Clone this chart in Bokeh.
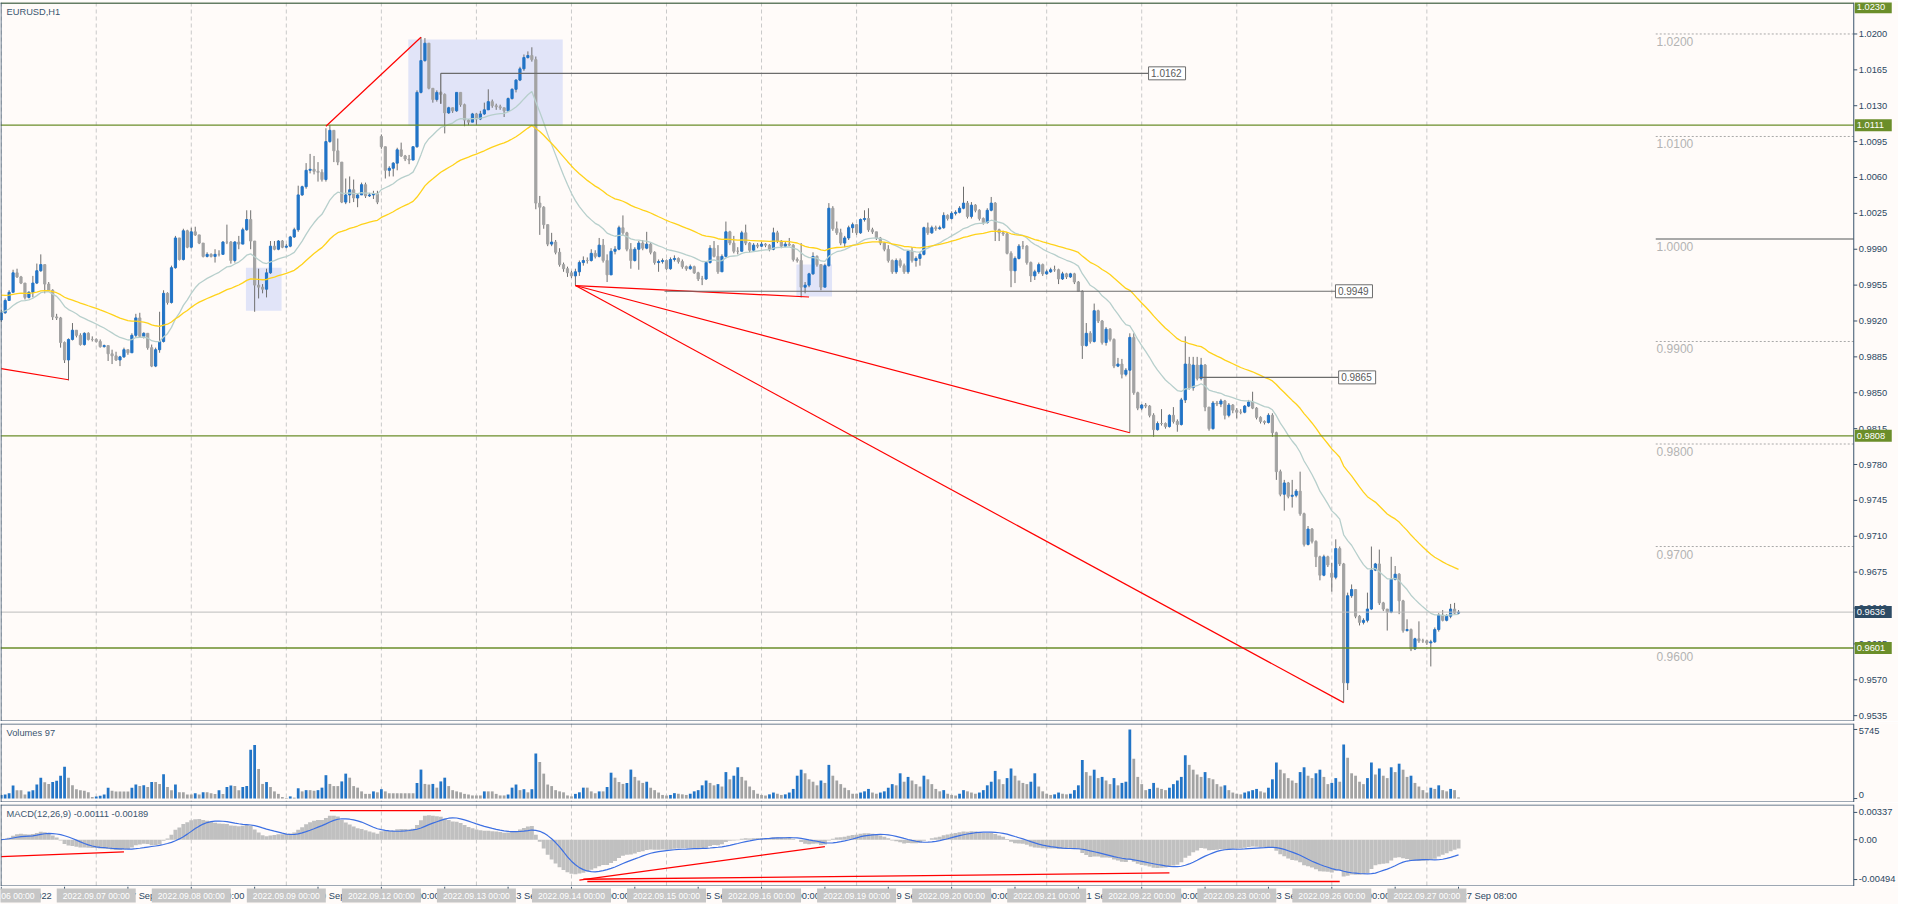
import numpy as np
import pandas as pd
from bokeh.plotting import figure
from bokeh.models import Range1d, Span, ColumnDataSource
from bokeh.layouts import column
from bokeh.embed import file_html
from bokeh.resources import INLINE
from bokeh.core.properties import value

# ---------------- data ----------------
TITLE = "EURUSD,H1"
DAYS = ["2022.09.06", "2022.09.07", "2022.09.08", "2022.09.09", "2022.09.12", "2022.09.13",
        "2022.09.14", "2022.09.15", "2022.09.16", "2022.09.19", "2022.09.20", "2022.09.21",
        "2022.09.22", "2022.09.23", "2022.09.26", "2022.09.27"]
PRICE_BASE = 0.9500   # prices below are in pips above this base
PIP = 0.0001

CLOSE_P = [
    428, 440, 448, 467, 463, 457, 443, 448, 457, 469,
    475, 456, 450, 424, 423, 399, 382, 402, 411, 406,
    397, 408, 402, 402, 400, 395, 396, 388, 386, 382,
    385, 392, 389, 406, 423, 405, 408, 394, 376, 392,
    400, 447, 438, 472, 501, 480, 508, 492, 507, 504,
    496, 483, 485, 483, 485, 485, 497, 497, 479, 497,
    495, 509, 519, 498, 455, 453, 451, 467, 493, 490,
    498, 492, 493, 502, 509, 543, 551, 567, 568, 566,
    565, 558, 595, 606, 586, 575, 536, 543, 548, 540,
    543, 553, 542, 543, 544, 536, 590, 567, 569, 574,
    587, 581, 578, 577, 590, 643, 674, 691, 647, 636,
    643, 641, 623, 628, 625, 643, 631, 616, 614, 622,
    617, 622, 626, 634, 630, 629, 628, 625, 637, 646,
    655, 666, 677, 679, 675, 535, 531, 514, 495, 497,
    487, 475, 471, 467, 464, 468, 477, 479, 479, 486,
    483, 494, 479, 465, 488, 490, 511, 506, 490, 479,
    490, 496, 491, 495, 487, 477, 478, 479, 471, 480,
    481, 478, 473, 471, 473, 467, 461, 461, 477, 491,
    483, 468, 483, 507, 496, 488, 488, 506, 496, 489,
    494, 493, 495, 494, 490, 506, 498, 493, 495, 494,
    480, 479, 453, 455, 466, 483, 475, 453, 474, 530,
    510, 506, 496, 501, 511, 514, 506, 519, 520, 509,
    507, 501, 496, 490, 479, 468, 479, 474, 468, 488,
    479, 481, 485, 511, 506, 511, 510, 511, 523, 520,
    525, 526, 530, 535, 522, 533, 528, 520, 516, 528,
    535, 509, 506, 505, 486, 469, 481, 493, 493, 477,
    464, 468, 475, 466, 468, 470, 470, 461, 466, 463,
    466, 458, 449, 396, 408, 400, 430, 420, 399, 412,
    402, 376, 378, 368, 372, 404, 350, 335, 338, 337,
    328, 314, 320, 320, 317, 328, 322, 319, 343, 378,
    355, 377, 364, 377, 336, 315, 340, 339, 342, 328,
    338, 333, 331, 331, 337, 341, 335, 326, 322, 321,
    328, 311, 273, 251, 262, 249, 250, 254, 232, 202,
    217, 205, 190, 172, 190, 182, 170, 198, 183, 67,
    152, 158, 132, 126, 128, 139, 177, 183, 145, 139,
    136, 168, 173, 147, 118, 119, 100, 110, 108, 108,
    106, 107, 119, 133, 128, 132, 139, 135, 136]

HIGH_P = [
    431, 442, 450, 470, 471, 464, 457, 449, 464, 476,
    485, 475, 458, 451, 427, 424, 400, 403, 418, 411,
    408, 409, 409, 405, 403, 402, 397, 396, 392, 390,
    386, 394, 392, 408, 427, 428, 409, 408, 397, 394,
    429, 450, 448, 474, 503, 498, 510, 509, 511, 512,
    504, 496, 487, 486, 490, 489, 498, 514, 498, 498,
    503, 511, 528, 528, 498, 471, 456, 471, 498, 498,
    499, 499, 495, 503, 511, 552, 552, 574, 583, 581,
    575, 568, 608, 611, 606, 598, 575, 559, 561, 558,
    544, 555, 555, 545, 547, 547, 602, 590, 571, 575,
    589, 594, 582, 582, 590, 645, 697, 696, 690, 647,
    645, 644, 642, 629, 628, 643, 643, 632, 617, 623,
    623, 625, 633, 646, 636, 632, 631, 628, 638, 647,
    656, 668, 680, 683, 687, 678, 542, 532, 514, 506,
    499, 491, 477, 473, 469, 471, 479, 483, 482, 490,
    489, 501, 500, 485, 491, 493, 513, 523, 507, 496,
    492, 498, 499, 507, 496, 488, 480, 481, 480, 482,
    484, 482, 480, 474, 475, 474, 468, 464, 478, 494,
    498, 494, 485, 517, 508, 503, 492, 508, 514, 497,
    496, 496, 497, 496, 495, 511, 508, 499, 497, 501,
    495, 482, 496, 458, 467, 487, 484, 474, 476, 535,
    532, 517, 510, 503, 513, 516, 513, 520, 528, 530,
    511, 507, 502, 497, 494, 480, 481, 481, 476, 489,
    492, 483, 487, 512, 516, 513, 513, 513, 526, 524,
    527, 528, 532, 551, 537, 536, 534, 529, 521, 530,
    541, 536, 510, 508, 506, 488, 483, 495, 498, 494,
    478, 470, 477, 476, 470, 472, 474, 471, 468, 467,
    467, 467, 459, 450, 418, 410, 437, 431, 421, 414,
    413, 403, 384, 383, 374, 408, 408, 351, 339, 340,
    338, 330, 322, 334, 321, 329, 336, 324, 345, 405,
    385, 385, 385, 384, 378, 336, 342, 342, 344, 343,
    340, 339, 335, 334, 338, 343, 351, 336, 327, 323,
    330, 330, 312, 275, 265, 263, 265, 256, 273, 233,
    220, 218, 206, 191, 192, 191, 184, 207, 200, 184,
    155, 163, 158, 133, 130, 155, 200, 184, 197, 146,
    139, 190, 181, 174, 148, 129, 120, 111, 127, 110,
    109, 109, 121, 135, 138, 134, 144, 145, 138]

LOW_P = [
    419, 427, 440, 449, 462, 456, 441, 442, 443, 456,
    468, 447, 449, 421, 421, 394, 379, 362, 401, 404,
    396, 396, 401, 400, 399, 394, 394, 381, 378, 381,
    376, 384, 387, 389, 404, 404, 403, 392, 375, 375,
    389, 399, 436, 437, 471, 479, 479, 491, 491, 503,
    495, 482, 482, 482, 477, 483, 485, 495, 476, 477,
    490, 495, 508, 490, 429, 442, 447, 443, 466, 489,
    489, 491, 491, 492, 501, 507, 542, 549, 564, 563,
    556, 556, 556, 594, 575, 572, 535, 534, 535, 536,
    531, 543, 540, 541, 539, 534, 588, 559, 561, 561,
    567, 580, 576, 573, 577, 589, 642, 673, 646, 633,
    634, 632, 603, 622, 623, 624, 629, 610, 611, 614,
    611, 616, 621, 626, 628, 626, 626, 619, 624, 636,
    643, 654, 664, 676, 673, 529, 504, 510, 493, 493,
    485, 473, 468, 463, 462, 455, 464, 474, 476, 478,
    481, 482, 477, 458, 466, 485, 489, 504, 488, 471,
    478, 470, 489, 490, 485, 475, 468, 476, 470, 470,
    478, 476, 471, 469, 470, 466, 459, 455, 460, 476,
    482, 466, 469, 482, 494, 486, 485, 488, 494, 487,
    488, 491, 492, 492, 488, 489, 496, 491, 492, 493,
    478, 477, 443, 447, 453, 465, 473, 450, 453, 473,
    508, 504, 494, 492, 499, 506, 504, 505, 517, 507,
    505, 499, 494, 488, 477, 466, 466, 472, 466, 466,
    477, 473, 474, 484, 504, 505, 508, 509, 510, 518,
    519, 523, 525, 529, 520, 520, 526, 518, 514, 515,
    527, 498, 498, 503, 485, 453, 457, 480, 490, 475,
    458, 460, 466, 464, 465, 467, 468, 456, 460, 461,
    462, 456, 449, 383, 395, 398, 399, 418, 397, 396,
    400, 374, 375, 364, 366, 311, 348, 333, 333, 335,
    326, 307, 313, 318, 315, 316, 320, 312, 318, 340,
    353, 352, 362, 362, 332, 313, 314, 337, 336, 324,
    326, 330, 325, 329, 330, 336, 334, 324, 320, 319,
    320, 307, 265, 249, 235, 247, 238, 248, 230, 200,
    201, 203, 180, 167, 171, 180, 156, 168, 181, 48,
    60, 150, 130, 123, 124, 126, 138, 176, 143, 137,
    118, 135, 167, 134, 116, 117, 98, 99, 106, 106,
    104, 83, 106, 117, 127, 127, 130, 134, 134]

FIRST_OPEN_P = 421
GAP_OPEN_P = {96: 600, 336: 174}

VOLUME = [
    300, 337, 440, 1088, 699, 699, 337, 596, 699, 1166,
    1735, 1347, 1217, 1373, 1476, 1891, 2642, 1735, 1114, 777,
    699, 648, 518, 130, 181, 233, 337, 907, 648, 596,
    596, 596, 596, 907, 1166, 1036, 1114, 958, 1373, 1373,
    1217, 2020, 958, 699, 1166, 518, 518, 337, 337, 440,
    337, 518, 518, 440, 389, 699, 389, 958, 1088, 1036,
    699, 958, 1036, 4066, 4455, 2460, 1217, 1373, 958, 596,
    389, 130, 50, 181, 78, 855, 596, 699, 699, 648,
    699, 907, 1943, 1217, 1036, 1036, 1425, 2072, 1735, 1036,
    907, 596, 389, 389, 596, 518, 777, 596, 440, 440,
    440, 440, 440, 440, 440, 1295, 2409, 1217, 1166, 1217,
    907, 1425, 1735, 1036, 699, 596, 518, 389, 337, 259,
    259, 259, 596, 596, 596, 389, 259, 259, 337, 907,
    1166, 699, 777, 518, 777, 3756, 3030, 2072, 1166, 1036,
    699, 596, 518, 259, 181, 389, 518, 907, 907, 596,
    440, 596, 596, 958, 2150, 1735, 1373, 1217, 1295, 2409,
    1800, 1500, 1300, 1400, 900, 700, 500, 300, 250, 300,
    450, 400, 350, 300, 400, 600, 700, 1100, 1500, 1300,
    1100, 1200, 1000, 2200, 1600, 1900, 2600, 1800, 1500, 1000,
    700, 400, 300, 250, 350, 500, 400, 300, 350, 500,
    800, 1900, 2400, 2100, 1600, 1400, 1100, 1500, 1300, 2800,
    1900, 1500, 1200, 900, 700, 400, 400, 500, 600, 800,
    500, 400, 500, 600, 900, 1200, 1100, 2100, 1400, 1800,
    1500, 1200, 1000, 1900, 1600, 1200, 800, 600, 700, 400,
    300, 250, 400, 700, 600, 500, 400, 500, 700, 1100,
    1400, 2300, 1600, 1200, 1700, 2500, 1900, 1500, 1300, 1200,
    1400, 2100, 1000, 600, 400, 300, 350, 500, 400, 350,
    400, 700, 1100, 3200, 2200, 1900, 2400, 1700, 1800, 1500,
    1200, 1700, 1100, 1300, 1400, 5745, 3300, 1800, 1200, 700,
    800, 1300, 900, 800, 700, 900, 1200, 1500, 1800, 3600,
    2800, 2400, 2000, 1800, 2200, 1700, 1600, 1200, 1000, 1100,
    700, 500, 400, 350, 500, 600, 700, 800, 600, 500,
    900, 1600, 3000, 2400, 2100, 1700, 1500, 1300, 2200, 2600,
    1900, 1700, 2100, 2400, 1800, 1200, 1300, 1700, 1400, 4500,
    3400, 2100, 1900, 1400, 1200, 1700, 3000, 2000, 2500, 1900,
    1700, 2600, 2200, 2900, 2400, 1800, 1900, 1300, 1000, 700,
    500, 900, 800, 1100, 700, 600, 800, 700, 97]

VOLUME_LABEL = "Volumes 97"
MACD_LABEL = "MACD(12,26,9) -0.00111 -0.00189"
MA_FAST, MA_SLOW = 20, 50
MA_FAST_SEED, MA_SLOW_SEED = 0.9929, 0.9946

PRICE_TICKS = [1.0200, 1.0165, 1.0130, 1.0095, 1.0060, 1.0025, 0.9990, 0.9955, 0.9920, 0.9885,
               0.9850, 0.9815, 0.9780, 0.9745, 0.9710, 0.9675, 0.9640, 0.9605, 0.9570, 0.9535]
VOLUME_TICKS = [5745, 0]
VOLUME_TICK_TEXT = ["5745", "0"]
VOLUME_TICK_SHIFT = [-2, 4]        # px nudges of the labels (up is positive)
MACD_TICKS = [0.00337, 0.0, -0.00494]
MACD_TICK_TEXT = ["0.00337", "0.00", "-0.00494"]
MACD_TICK_SHIFT = [0, 0, 1]

GREEN_LEVELS = [1.0230, 1.0111, 0.9808, 0.9601]
CURRENT_PRICE = 0.9636
ROUND_LEVELS = [1.0200, 1.0100, 0.9900, 0.9800, 0.9700]
ROUND_SOLID = [1.0000]
ROUND_LABEL_ONLY = [0.9600]

# rectangles: left bar, right bar, top price, bottom price
RECT_L = [61.8, 102.8, 200.8]
RECT_R = [70.8, 141.8, 209.8]
RECT_T = [0.9972, 1.01946, 0.9975]
RECT_B = [0.9930, 1.01104, 0.9944]

# red trend lines on price (bar, price) -> (bar, price)
TR_X0 = [0, 82, 145, 145, 145]
TR_Y0 = [0.98736, 1.0110, 0.99546, 0.99546, 0.99546]
TR_X1 = [17, 106, 204, 285, 339]
TR_Y1 = [0.98627, 1.01968, 0.99434, 0.9811, 0.95477]

# red trend lines on MACD
MT_X0 = [0, 83, 146, 147, 148]
MT_Y0 = [-0.00209, 0.00358, -0.00500, -0.00490, -0.00518]
MT_X1 = [31, 111, 208, 295, 338]
MT_Y1 = [-0.00152, 0.00358, -0.00086, -0.00412, -0.00518]

# gray price lines with boxed labels
PL_X0 = [111, 167.5, 302.6]
PL_X1 = [289.6, 336.8, 337.6]
PL_Y = [1.01616, 0.99490, 0.98650]
PL_TXT = ["1.0162", "0.9949", "0.9865"]
PL_VERT_X = [111]
PL_VERT_Y0 = [1.0132]
PL_VERT_Y1 = [1.01616]

# ---------------- derived ----------------
N = len(CLOSE_P)
x = np.arange(N)
close = PRICE_BASE + np.array(CLOSE_P) * PIP
high_raw = PRICE_BASE + np.array(HIGH_P) * PIP
low_raw = PRICE_BASE + np.array(LOW_P) * PIP
open_ = np.empty(N)
open_[0] = PRICE_BASE + FIRST_OPEN_P * PIP
open_[1:] = close[:-1]
for k, v in GAP_OPEN_P.items():
    open_[k] = PRICE_BASE + v * PIP
high = np.maximum(high_raw, np.maximum(open_, close))
low = np.minimum(low_raw, np.minimum(open_, close))

BLUE = "#2274c6"
GRAY = "#a3a3a3"
WICK = "#6f6f6f"
BG = "#fffbf9"
FRAME = "#3a536c"
AXTXT = "#2c4762"
GREEN = "#6b8e2a"
NAVY = "#2d4b65"
FONT = "Liberation Sans"
FS = "9.3px"

bull = close > open_
body_color = [BLUE if b else GRAY for b in bull]
csrc = ColumnDataSource(dict(x=x, h=high, l=low,
                             bt=np.maximum(open_, close), bb=np.minimum(open_, close),
                             col=body_color))

cs = pd.Series(close)
ma_fast = pd.concat([pd.Series([MA_FAST_SEED]), cs]).ewm(span=MA_FAST, adjust=False).mean().values[1:]
ma_slow = pd.concat([pd.Series([MA_SLOW_SEED]), cs]).ewm(span=MA_SLOW, adjust=False).mean().values[1:]
ema12 = cs.ewm(span=12, adjust=False).mean()
ema26 = cs.ewm(span=26, adjust=False).mean()
macd = (ema12 - ema26).values
signal = pd.Series(macd).rolling(9, min_periods=1).mean().values

vol = np.array(VOLUME, dtype=float)
vol_col = [BLUE] + [BLUE if vol[i] > vol[i - 1] else GRAY for i in range(1, N)]

# ---------------- layout helpers ----------------
FW = 1898
XR = Range1d(-0.175, 479.1)
AX_X = 467.8                      # bar position of the price-axis line
PXB = FW / (XR.end - XR.start)    # pixels per bar


def panel(h, ylo, yhi, top=2):
    p = figure(frame_width=FW, frame_height=h, x_range=XR, y_range=Range1d(ylo, yhi),
               output_backend="svg", toolbar_location=None, tools="",
               x_axis_location=None, y_axis_location=None,
               background_fill_color=BG, border_fill_color=BG,
               min_border_left=0, min_border_right=0, min_border_top=top, min_border_bottom=0)
    p.grid.visible = False
    p.outline_line_color = None
    return p


def day_lines(p):
    for k in range(len(DAYS)):
        p.add_layout(Span(location=24 * k, dimension="height", line_color="#c9c9c9",
                          line_dash="4 3", line_width=1, level="underlay"))


def frame_and_axis(p, h, ylo, yhi, ticks, texts, shifts=None):
    pys = h / (yhi - ylo)
    dx, dy = 0.5 / PXB, 0.5 / pys
    p.segment(x0=[XR.start + dx, XR.start, XR.start, AX_X],
              y0=[ylo, yhi - dy, ylo + dy, ylo],
              x1=[XR.start + dx, AX_X, AX_X, AX_X],
              y1=[yhi, yhi - dy, ylo + dy, yhi],
              line_color=FRAME, line_width=1)
    n = len(ticks)
    p.segment(x0=[AX_X] * n, y0=ticks, x1=[AX_X + 3.5 / PXB] * n, y1=ticks,
              line_color=FRAME, line_width=1)
    ys = list(ticks) if shifts is None else [t + s / pys for t, s in zip(ticks, shifts)]
    p.text(x=[AX_X] * n, y=ys, text=texts, x_offset=5, text_baseline="middle",
           text_align="left", text_font=value(FONT), text_font_size=FS, text_color=AXTXT)
    return pys


def tag(p, pys, y, text, bg, shift=0):
    yy = y + shift / pys
    p.rect(x=AX_X + 19.5 / PXB, y=yy, width=37, height=12, width_units="screen",
           height_units="screen", fill_color=bg, line_color=None)
    p.text(x=[AX_X], y=[yy], text=[text], x_offset=3, text_baseline="middle", text_align="left",
           text_font=value(FONT), text_font_size=FS, text_color="white")


def corner_label(p, yhi, text):
    p.text(x=[XR.start], y=[yhi], text=[text], x_offset=6, y_offset=4, text_baseline="top",
           text_font=value(FONT), text_font_size=FS, text_color="#3a5570")


# ---------------- main price panel ----------------
M_LO, M_HI, M_H = 0.95293, 1.02307, 719
main = panel(M_H, M_LO, M_HI)
day_lines(main)

main.quad(left=RECT_L, right=RECT_R, top=RECT_T, bottom=RECT_B,
          fill_color="#e1e4f8", line_color=None)

main.segment(x0=[417.8] * len(ROUND_LEVELS), x1=[AX_X] * len(ROUND_LEVELS),
             y0=ROUND_LEVELS, y1=ROUND_LEVELS, line_color="#a9a9a9", line_dash="2 2", line_width=1)
main.segment(x0=[417.8] * len(ROUND_SOLID), x1=[AX_X] * len(ROUND_SOLID),
             y0=ROUND_SOLID, y1=ROUND_SOLID, line_color="#a9a9a9", line_width=2)
rl = ROUND_LEVELS + ROUND_SOLID + ROUND_LABEL_ONLY
main.text(x=[418.0] * len(rl), y=rl, text=[f"{v:.4f}" for v in rl], y_offset=3,
          text_baseline="top", text_font=value(FONT), text_font_size="12px", text_color="#b3b3b3")

main.segment(x0="x", y0="h", x1="x", y1="l", line_color=WICK, line_width=1, source=csrc)
main.vbar(x="x", width=0.55, top="bt", bottom="bb", fill_color="col", line_color="col",
          line_width=1, source=csrc)

main.line(x, ma_fast, line_color="#b7cfcc", line_width=1.3)
main.line(x, ma_slow, line_color="#ffd21a", line_width=1.3)

ng = len(GREEN_LEVELS)
main.segment(x0=[XR.start] * ng, x1=[AX_X] * ng, y0=GREEN_LEVELS, y1=GREEN_LEVELS,
             line_color=GREEN, line_width=1.3)
main.segment(x0=[XR.start], x1=[AX_X], y0=[CURRENT_PRICE], y1=[CURRENT_PRICE],
             line_color="#bdbdbd", line_width=1)

main.segment(x0=TR_X0, y0=TR_Y0, x1=TR_X1, y1=TR_Y1, line_color="#ff0000", line_width=1.2)

main.segment(x0=PL_X0, y0=PL_Y, x1=PL_X1, y1=PL_Y, line_color="#6c6c6c", line_width=1.2)
main.segment(x0=PL_VERT_X, y0=PL_VERT_Y0, x1=PL_VERT_X, y1=PL_VERT_Y1,
             line_color="#6c6c6c", line_width=1.2)
main.rect(x=[xx + 19 / PXB for xx in PL_X1], y=PL_Y, width=37, height=13, width_units="screen",
          height_units="screen", fill_color="white", line_color="#6c6c6c", line_width=1)
main.text(x=PL_X1, y=PL_Y, text=PL_TXT, x_offset=3, text_baseline="middle",
          text_font=value(FONT), text_font_size="10px", text_color="#5a5a5a")

m_pys = frame_and_axis(main, M_H, M_LO, M_HI, PRICE_TICKS, [f"{v:.4f}" for v in PRICE_TICKS])
for lv in GREEN_LEVELS:
    # the top level sits on the frame edge: nudge its tag down so it stays readable
    tag(main, m_pys, lv, f"{lv:.4f}", GREEN, shift=-4 if lv == max(GREEN_LEVELS) else 0)
tag(main, m_pys, CURRENT_PRICE, f"{CURRENT_PRICE:.4f}", NAVY)
corner_label(main, M_HI, TITLE)

# ---------------- volume panel ----------------
V_LO, V_HI, V_H = -328, 6240, 79
volf = panel(V_H, V_LO, V_HI)
day_lines(volf)
volf.vbar(x=x, width=0.7, top=vol, bottom=0, fill_color=vol_col, line_color=None)
frame_and_axis(volf, V_H, V_LO, V_HI, VOLUME_TICKS, VOLUME_TICK_TEXT, VOLUME_TICK_SHIFT)
corner_label(volf, V_HI, VOLUME_LABEL)

# ---------------- MACD panel ----------------
D_LO, D_HI, D_H = -0.00580, 0.00435, 82
macdf = panel(D_H, D_LO, D_HI)
day_lines(macdf)
macdf.vbar(x=x, width=1.0, top=macd, bottom=0, fill_color="#c0c0c0", line_color=None)
macdf.line(x, signal, line_color="#3c6fe2", line_width=1.2)
macdf.segment(x0=MT_X0, y0=MT_Y0, x1=MT_X1, y1=MT_Y1, line_color="#ff0000", line_width=1.3)
frame_and_axis(macdf, D_H, D_LO, D_HI, MACD_TICKS, MACD_TICK_TEXT, MACD_TICK_SHIFT)
corner_label(macdf, D_HI, MACD_LABEL)

# ---------------- time scale ----------------
xf = panel(18, 0, 18, top=0)
tick_bars = list(range(0, N, 16))
xf.segment(x0=tick_bars, y0=[18] * len(tick_bars), x1=tick_bars, y1=[14.5] * len(tick_bars),
           line_color=FRAME, line_width=1)
tick_text = []
for b in tick_bars:
    d = int(DAYS[b // 24][-2:])
    tick_text.append(f"{d} Sep 2022" if b == 0 else f"{d} Sep {b % 24:02d}:00")
xf.text(x=tick_bars, y=[9] * len(tick_bars), text=tick_text, x_offset=3, text_baseline="middle",
        text_align="left", text_font=value(FONT), text_font_size=FS, text_color=AXTXT)
day_bars = [24 * k for k in range(len(DAYS))]
xf.rect(x=day_bars, y=[9] * len(day_bars), width=79, height=14, width_units="screen",
        height_units="screen", fill_color="#c6c6c6", line_color=None)
xf.text(x=day_bars, y=[9] * len(day_bars), text=[f"{d} 00:00" for d in DAYS],
        text_baseline="middle", text_align="center", text_font=value(FONT),
        text_font_size="8.6px", text_color="white")

layout = column(main, volf, macdf, xf, spacing=0)
open("out.html", "w").write(file_html(layout, INLINE))
